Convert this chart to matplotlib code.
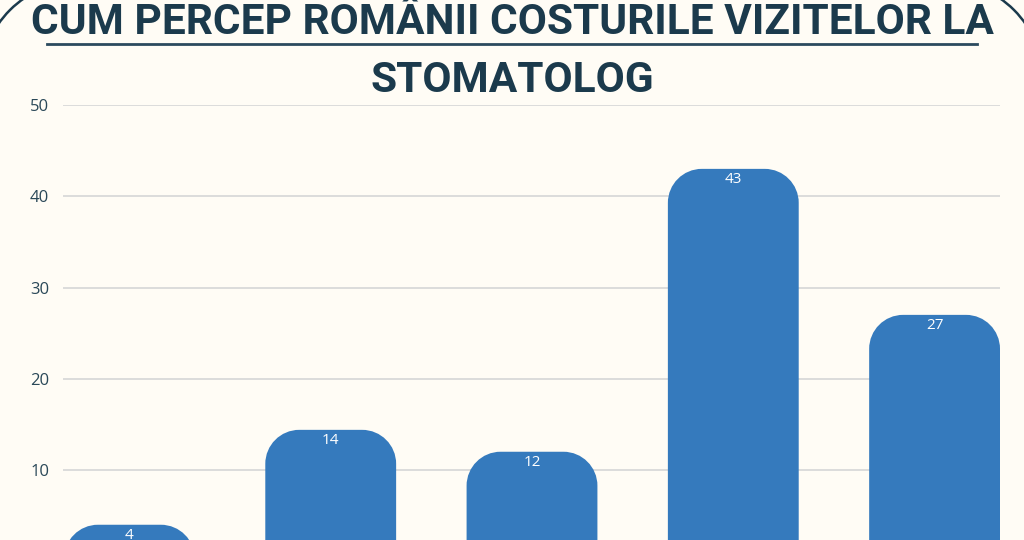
import numpy as np
import matplotlib
matplotlib.use("Agg")
import matplotlib.pyplot as plt
from matplotlib.path import Path
from matplotlib.patches import PathPatch, Arc
from matplotlib.lines import Line2D

# data
categories = ["A", "B", "C", "D", "E"]
values = [4, 14.4, 12, 43, 27]
yticks = [10, 20, 30, 40, 50]
title = "CUM PERCEP ROMÂNII COSTURILE VIZITELOR LA\nSTOMATOLOG"

bg = "#fffcf5"
dark = "#1b3a4c"
blue = "#357abd"

plt.rcParams['font.family'] = ['Open Sans', 'DejaVu Sans']

W, H = 1024, 540
fig = plt.figure(figsize=(W / 100, H / 100), dpi=100, facecolor=bg)

# axes: 0 lies below the bottom edge of the picture
left, right, top, zero_px = 63, 1000, 105, 561.25
ax = fig.add_axes([left / W, (H - zero_px) / H, (right - left) / W, (zero_px - top) / H])
ax.set_facecolor(bg)

x = np.arange(len(categories))
width = 0.65
xlim = (-width / 2 - 0.005, len(categories) - 1 + width / 2)
ylim = (0, 50)
ax.set_xlim(*xlim)
ax.set_ylim(*ylim)

# rounded top corners (radius in pixels -> data units)
r_px = 34
rx = r_px * (xlim[1] - xlim[0]) / (right - left)
ry = r_px * (ylim[1] - ylim[0]) / (zero_px - top)
k = 0.5523

bars = ax.bar(x, values, width=width, color=blue)
for b in bars:
    x0, y0 = b.get_x(), b.get_y()
    x1, h = x0 + b.get_width(), y0 + b.get_height()
    verts = [(x0, y0), (x0, h - ry),
             (x0, h - ry + k * ry), (x0 + rx - k * rx, h), (x0 + rx, h),
             (x1 - rx, h),
             (x1 - rx + k * rx, h), (x1, h - ry + k * ry), (x1, h - ry),
             (x1, y0), (x0, y0)]
    codes = [Path.MOVETO, Path.LINETO,
             Path.CURVE4, Path.CURVE4, Path.CURVE4,
             Path.LINETO,
             Path.CURVE4, Path.CURVE4, Path.CURVE4,
             Path.LINETO, Path.CLOSEPOLY]
    ax.add_patch(PathPatch(Path(verts, codes), facecolor=blue, edgecolor='none', zorder=3))
    b.set_visible(False)
    ax.annotate('{:.0f}'.format(b.get_height()), (b.get_x() + b.get_width() / 2, h),
                xytext=(0, -2), textcoords='offset points', ha='center', va='top',
                color='white', fontsize=11, zorder=4)

ax.set_yticks(yticks)
ax.set_xticks([])
ax.tick_params(axis='y', length=0, labelsize=12, labelcolor="#2a4858", pad=10)
ax.grid(axis='y', color='#d9d9d9', linewidth=1.3, zorder=0)
ax.set_axisbelow(True)
for s in ax.spines.values():
    s.set_visible(False)

# title and decoration
fig.text(0.5, 1 - 2 / H, title, ha='center', va='top', fontsize=30.5, fontweight='bold',
         color=dark, linespacing=1.52, family=['Roboto', 'DejaVu Sans'])
fig.add_artist(Line2D([47 / W, 977 / W], [1 - 44 / H, 1 - 44 / H], color='#2b4a5e', linewidth=2))
fig.add_artist(Arc((80 / W, 1 - 80 / H), 2 * 99 / W, 2 * 99 / H, theta1=90, theta2=180,
                   color=dark, linewidth=1.8, transform=fig.transFigure))
fig.add_artist(Arc((944 / W, 1 - 80 / H), 2 * 99 / W, 2 * 99 / H, theta1=0, theta2=90,
                   color=dark, linewidth=1.8, transform=fig.transFigure))

fig.savefig("out.png", dpi=100, facecolor=bg)
